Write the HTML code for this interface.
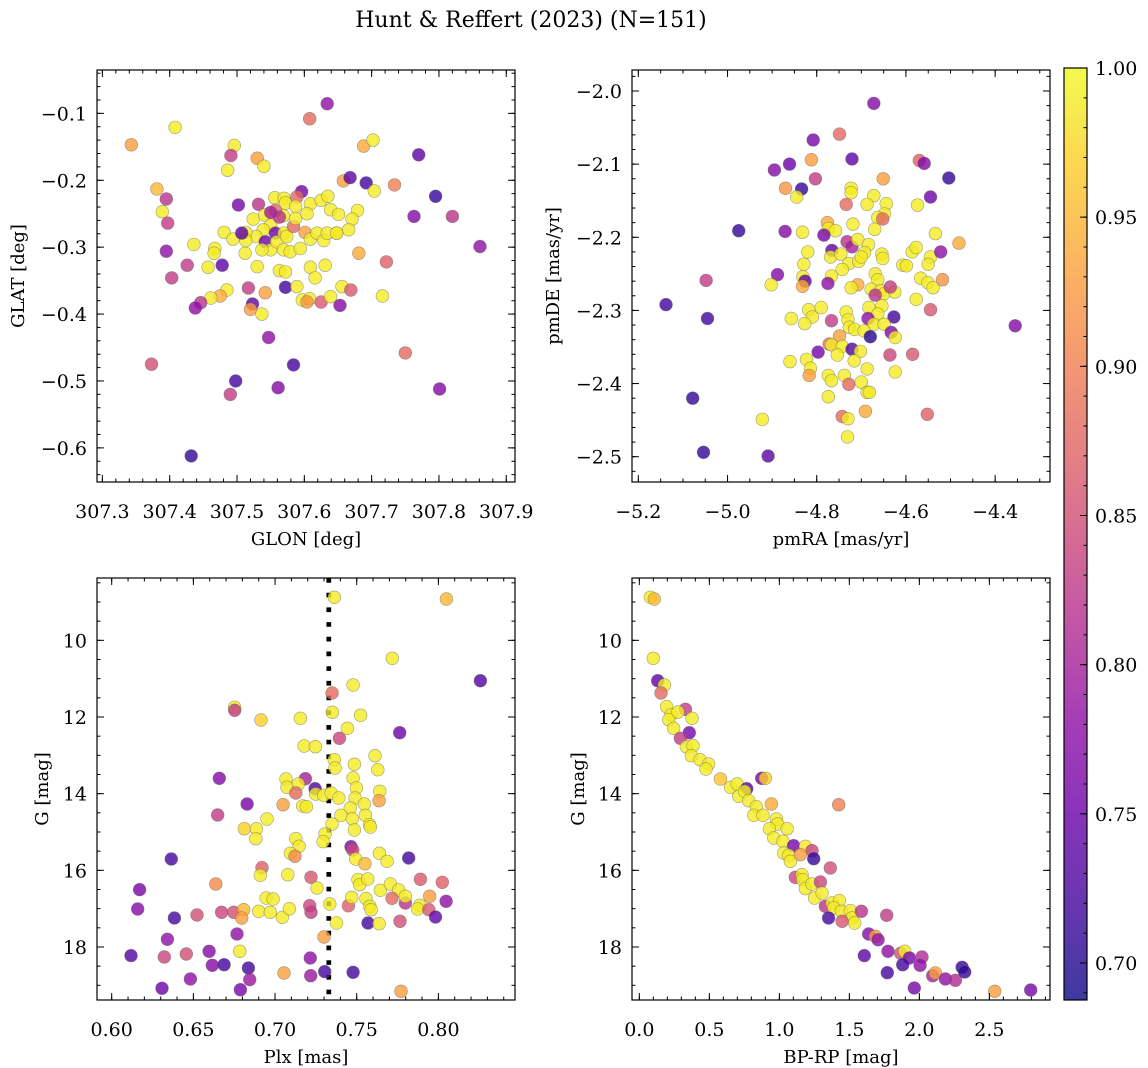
<!DOCTYPE html>
<html><head><meta charset="utf-8"><title>Hunt & Reffert (2023)</title>
<style>
html,body{margin:0;padding:0;background:#fff;}
svg{display:block;font-family:"DejaVu Serif","Liberation Serif",serif;}
</style></head>
<body>
<svg id="fig" xmlns="http://www.w3.org/2000/svg" width="1148" height="1068" viewBox="0 0 1148 1068">
<rect x="0" y="0" width="1148" height="1068" fill="#fff"/>
<text x="531" y="27" text-anchor="middle" font-size="22">Hunt &amp; Reffert (2023) (N=151)</text>
</svg>
<script>
// ---- data: [x, y, membership probability] ----
const spatialPoints = [
[307.343,-0.147,.93],[307.408,-0.121,.99],[307.634,-0.0855,.78],[307.608,-0.108,.88],[307.496,-0.148,.99],[307.491,-0.163,.83],[307.530,-0.167,.93],[307.540,-0.179,.99],[307.486,-0.185,.99],[307.381,-0.213,.95],
[307.395,-0.228,.82],[307.389,-0.247,.99],[307.397,-0.264,.83],[307.502,-0.237,.76],[307.532,-0.236,.82],[307.596,-0.217,.76],[307.589,-0.225,.88],[307.556,-0.226,.99],[307.570,-0.227,.99],[307.572,-0.234,.99],
[307.587,-0.239,.99],[307.609,-0.235,.99],[307.625,-0.230,.99],[307.635,-0.224,.99],[307.639,-0.244,.99],[307.651,-0.251,.99],[307.679,-0.245,.99],[307.671,-0.258,.99],[307.666,-0.274,.99],[307.648,-0.279,.99],
[307.658,-0.201,.93],[307.668,-0.196,.74],[307.692,-0.204,.72],[307.704,-0.216,.99],[307.688,-0.149,.94],[307.702,-0.140,.99],[307.734,-0.207,.90],[307.770,-0.162,.74],[307.795,-0.224,.71],[307.763,-0.254,.77],
[307.820,-0.254,.82],[307.861,-0.299,.78],[307.395,-0.306,.78],[307.436,-0.296,.99],[307.467,-0.302,.99],[307.466,-0.309,.99],[307.481,-0.278,.99],[307.494,-0.288,.99],[307.426,-0.327,.83],[307.457,-0.330,.99],
[307.478,-0.327,.74],[307.403,-0.346,.83],[307.512,-0.309,.99],[307.530,-0.329,.99],[307.524,-0.258,.99],[307.541,-0.252,.99],[307.550,-0.267,.99],[307.539,-0.274,.99],[307.528,-0.284,.99],[307.513,-0.278,.99],
[307.513,-0.290,.99],[307.507,-0.279,.74],[307.542,-0.292,.75],[307.550,-0.304,.99],[307.537,-0.304,.99],[307.557,-0.279,.75],[307.559,-0.292,.99],[307.570,-0.279,.99],[307.574,-0.284,.99],[307.569,-0.304,.99],
[307.579,-0.307,.99],[307.594,-0.302,.99],[307.584,-0.269,.88],[307.587,-0.257,.99],[307.569,-0.253,.99],[307.557,-0.245,.88],[307.601,-0.278,.93],[307.609,-0.288,.99],[307.619,-0.279,.99],[307.629,-0.290,.99],
[307.634,-0.279,.99],[307.648,-0.279,.99],[307.604,-0.250,.99],[307.681,-0.309,.94],[307.722,-0.322,.87],[307.563,-0.335,.99],[307.572,-0.337,.99],[307.609,-0.330,.99],[307.631,-0.327,.99],[307.616,-0.346,.99],
[307.517,-0.361,.83],[307.542,-0.368,.93],[307.572,-0.360,.72],[307.589,-0.359,.99],[307.485,-0.364,.99],[307.475,-0.373,.94],[307.461,-0.376,.99],[307.446,-0.383,.82],[307.438,-0.391,.78],[307.523,-0.385,.74],
[307.520,-0.393,.93],[307.537,-0.400,.99],[307.597,-0.379,.99],[307.608,-0.377,.99],[307.604,-0.382,.92],[307.625,-0.382,.86],[307.639,-0.374,.99],[307.656,-0.359,.99],[307.669,-0.364,.86],[307.716,-0.373,.99],
[307.653,-0.387,.77],[307.547,-0.435,.78],[307.373,-0.475,.85],[307.584,-0.476,.72],[307.498,-0.500,.72],[307.490,-0.520,.83],[307.561,-0.510,.77],[307.750,-0.458,.88],[307.801,-0.512,.77],[307.432,-0.612,.71],
[307.563,-0.255,.82],[307.550,-0.248,.80]
];
const pmPoints = [
[-4.672,-2.017,.77],[-4.749,-2.059,.88],[-4.808,-2.067,.76],[-4.721,-2.093,.74],[-4.812,-2.094,.93],[-4.861,-2.100,.75],[-4.895,-2.108,.77],[-4.803,-2.120,.83],[-4.870,-2.133,.92],[-4.834,-2.134,.71],
[-4.845,-2.145,.99],[-4.570,-2.095,.87],[-4.559,-2.099,.77],[-4.504,-2.119,.71],[-4.651,-2.120,.93],[-4.545,-2.145,.75],[-4.574,-2.156,.99],[-4.723,-2.133,.99],[-4.723,-2.139,.99],[-4.672,-2.143,.99],
[-4.687,-2.155,.99],[-4.644,-2.154,.99],[-4.648,-2.168,.99],[-4.663,-2.173,.99],[-4.652,-2.175,.88],[-4.734,-2.155,.88],[-4.719,-2.182,.99],[-4.670,-2.189,.99],[-4.776,-2.180,.94],[-4.774,-2.188,.99],
[-4.758,-2.191,.99],[-4.975,-2.191,.71],[-4.871,-2.192,.77],[-4.832,-2.193,.99],[-4.784,-2.197,.76],[-4.534,-2.195,.99],[-4.481,-2.208,.94],[-4.732,-2.206,.82],[-4.721,-2.213,.80],[-4.708,-2.203,.99],
[-4.684,-2.210,.99],[-4.766,-2.218,.74],[-4.820,-2.220,.99],[-4.769,-2.227,.99],[-4.746,-2.223,.99],[-4.728,-2.236,.99],[-4.743,-2.244,.99],[-4.706,-2.233,.99],[-4.693,-2.221,.99],[-4.700,-2.227,.99],
[-4.654,-2.223,.99],[-4.652,-2.229,.99],[-4.586,-2.220,.99],[-4.577,-2.214,.99],[-4.545,-2.227,.99],[-4.550,-2.237,.99],[-4.522,-2.220,.78],[-4.607,-2.238,.99],[-4.599,-2.239,.99],[-4.829,-2.237,.99],
[-4.888,-2.251,.77],[-4.831,-2.254,.99],[-4.826,-2.260,.74],[-4.832,-2.267,.94],[-4.767,-2.253,.99],[-4.775,-2.263,.78],[-4.902,-2.265,.99],[-5.048,-2.259,.83],[-4.669,-2.250,.99],[-4.663,-2.258,.99],
[-4.567,-2.256,.99],[-4.551,-2.262,.99],[-4.539,-2.269,.99],[-4.518,-2.258,.92],[-4.708,-2.265,.94],[-4.723,-2.269,.99],[-4.678,-2.271,.99],[-4.657,-2.273,.99],[-4.649,-2.277,.99],[-4.625,-2.275,.99],
[-4.635,-2.268,.83],[-4.669,-2.279,.82],[-4.577,-2.285,.99],[-5.138,-2.292,.72],[-5.045,-2.311,.72],[-4.818,-2.299,.99],[-4.790,-2.296,.99],[-4.810,-2.309,.99],[-4.827,-2.318,.99],[-4.857,-2.311,.99],
[-4.734,-2.302,.99],[-4.730,-2.313,.99],[-4.727,-2.323,.99],[-4.715,-2.326,.99],[-4.767,-2.314,.83],[-4.683,-2.296,.99],[-4.654,-2.294,.99],[-4.663,-2.305,.99],[-4.685,-2.311,.78],[-4.627,-2.309,.72],
[-4.672,-2.319,.99],[-4.649,-2.319,.99],[-4.694,-2.328,.99],[-4.680,-2.336,.70],[-4.633,-2.330,.77],[-4.624,-2.337,.99],[-4.545,-2.299,.86],[-4.355,-2.321,.77],[-4.749,-2.335,.93],[-4.772,-2.346,.89],
[-4.767,-2.347,.99],[-4.743,-2.349,.99],[-4.721,-2.353,.73],[-4.797,-2.357,.76],[-4.702,-2.356,.99],[-4.754,-2.361,.99],[-4.716,-2.369,.99],[-4.636,-2.361,.84],[-4.585,-2.360,.86],[-4.860,-2.370,.99],
[-4.823,-2.367,.99],[-4.814,-2.379,.99],[-4.817,-2.389,.93],[-4.687,-2.380,.99],[-4.624,-2.384,.99],[-4.774,-2.389,.99],[-4.767,-2.396,.99],[-4.738,-2.389,.99],[-4.728,-2.401,.88],[-4.700,-2.398,.99],
[-4.687,-2.412,.99],[-4.682,-2.412,.99],[-4.774,-2.418,.99],[-5.078,-2.420,.71],[-4.922,-2.449,.99],[-4.743,-2.445,.88],[-4.730,-2.448,.99],[-4.691,-2.438,.94],[-4.552,-2.442,.87],[-4.731,-2.473,.99],
[-5.054,-2.494,.71],[-4.909,-2.499,.74]
];
const plxPoints = [
[0.7363,8.878,.99],[0.8049,8.922,.95],[0.7718,10.470,.99],[0.8257,11.052,.73],[0.7478,11.165,.99],[0.7349,11.374,.88],[0.6753,11.748,.99],[0.6753,11.826,.83],[0.6914,12.078,.97],[0.7155,12.035,.99],
[0.7351,11.878,.99],[0.7524,11.957,.99],[0.7443,12.296,.99],[0.7763,12.409,.75],[0.7394,12.557,.84],[0.7178,12.757,.99],[0.7247,12.774,.99],[0.7363,13.113,.99],[0.7367,13.330,.99],[0.7486,13.235,.99],
[0.7612,13.009,.99],[0.7629,13.374,.99],[0.6659,13.600,.77],[0.7067,13.617,.99],[0.7186,13.609,.80],[0.7073,13.835,.99],[0.7143,13.748,.99],[0.7127,13.983,.88],[0.7245,13.870,.73],[0.7249,14.009,.99],
[0.7298,14.043,.99],[0.7343,13.983,.99],[0.7390,14.113,.99],[0.7478,13.591,.99],[0.7498,13.852,.99],[0.7490,14.113,.99],[0.7641,13.939,.99],[0.7637,14.183,.93],[0.6829,14.270,.76],[0.7049,14.287,.93],
[0.7169,14.322,.99],[0.7192,14.339,.99],[0.7547,14.270,.99],[0.7461,14.374,.99],[0.7404,14.565,.99],[0.7473,14.652,.99],[0.7553,14.565,.99],[0.7578,14.809,.99],[0.7584,14.870,.99],[0.7486,14.948,.99],
[0.7349,14.791,.99],[0.6649,14.557,.83],[0.6951,14.661,.99],[0.6812,14.913,.97],[0.6886,14.913,.99],[0.6882,15.174,.99],[0.7306,15.052,.99],[0.7294,15.252,.99],[0.7127,15.174,.99],[0.7147,15.374,.99],
[0.7094,15.557,.99],[0.7122,15.635,.91],[0.7465,15.383,.76],[0.7476,15.470,.84],[0.7494,15.704,.99],[0.7551,15.826,.95],[0.7639,15.557,.99],[0.7686,15.765,.99],[0.7818,15.678,.72],[0.6365,15.704,.72],
[0.6920,15.930,.87],[0.6910,16.130,.99],[0.7078,16.113,.99],[0.6637,16.357,.91],[0.7220,16.183,.86],[0.7257,16.461,.99],[0.7508,16.243,.99],[0.7518,16.374,.99],[0.7567,16.226,.99],[0.7645,16.522,.99],
[0.7706,16.357,.99],[0.7757,16.513,.99],[0.7890,16.235,.86],[0.8024,16.313,.87],[0.6171,16.504,.76],[0.6159,17.009,.77],[0.6384,17.243,.72],[0.6522,17.165,.85],[0.6673,17.096,.84],[0.6747,17.096,.85],
[0.6808,17.026,.95],[0.6796,17.243,.93],[0.6900,17.070,.99],[0.6945,16.722,.99],[0.6988,16.748,.99],[0.6971,17.096,.99],[0.7045,17.226,.99],[0.7088,17.000,.99],[0.7212,16.922,.84],[0.7220,17.096,.83],
[0.7335,16.878,.99],[0.7449,16.922,.87],[0.7469,16.704,.99],[0.7557,16.739,.99],[0.7580,16.939,.99],[0.7588,17.026,.99],[0.7716,16.730,.88],[0.7798,16.852,.82],[0.7798,16.678,.99],[0.7886,16.913,.99],
[0.7873,17.009,.99],[0.7947,16.678,.93],[0.7941,17.026,.86],[0.8047,16.809,.78],[0.7982,17.217,.74],[0.7765,17.330,.85],[0.7569,17.374,.72],[0.7637,17.391,.99],[0.7376,17.374,.99],[0.7300,17.739,.93],
[0.6767,17.661,.78],[0.6341,17.800,.78],[0.6784,18.113,.99],[0.6118,18.226,.73],[0.6322,18.261,.84],[0.6457,18.183,.85],[0.6596,18.113,.77],[0.6616,18.478,.77],[0.6688,18.461,.72],[0.6837,18.548,.72],
[0.6845,18.852,.79],[0.6788,19.113,.76],[0.6482,18.835,.78],[0.6308,19.078,.75],[0.7055,18.678,.93],[0.7216,18.287,.78],[0.7218,18.748,.79],[0.7304,18.643,.72],[0.7478,18.661,.72],[0.7771,19.157,.93]
];
const cmdPoints = [
[0.079,8.878,.99],[0.107,8.922,.95],[0.100,10.470,.99],[0.131,11.052,.74],[0.179,11.165,.99],[0.155,11.374,.88],[0.195,11.730,.99],[0.329,11.800,.83],[0.226,11.939,.99],[0.210,12.070,.99],
[0.276,11.870,.99],[0.376,12.035,.99],[0.245,12.296,.99],[0.357,12.409,.76],[0.293,12.557,.83],[0.336,12.774,.99],[0.383,12.748,.99],[0.371,13.009,.99],[0.433,13.113,.99],[0.495,13.226,.99],
[0.476,13.357,.99],[0.579,13.617,.96],[0.874,13.600,.76],[0.900,13.600,.97],[0.652,13.835,.99],[0.698,13.748,.99],[0.767,13.870,.73],[0.710,14.070,.99],[0.752,13.939,.99],[0.781,14.183,.99],
[0.836,14.339,.99],[0.817,14.565,.99],[0.883,14.565,.99],[0.943,14.270,.94],[0.979,14.661,.99],[0.988,14.791,.99],[0.929,14.913,.99],[1.055,14.913,.99],[0.960,15.157,.99],[1.026,15.243,.99],
[1.102,15.357,.76],[1.186,15.374,.99],[1.233,15.487,.84],[1.245,15.696,.71],[1.031,15.548,.99],[1.067,15.609,.99],[1.079,15.765,.99],[1.150,15.591,.93],[1.424,14.287,.90],[1.364,15.939,.85],
[1.114,16.183,.84],[1.162,16.113,.99],[1.167,16.243,.99],[1.186,16.478,.99],[1.233,16.357,.99],[1.293,16.304,.84],[1.252,16.722,.99],[1.305,16.591,.99],[1.329,16.939,.82],[1.376,16.852,.99],
[1.429,16.791,.99],[1.388,16.983,.99],[1.352,17.243,.72],[1.443,17.070,.99],[1.507,17.052,.99],[1.519,17.243,.99],[1.586,17.070,.82],[1.538,17.374,.99],[1.448,17.330,.86],[1.767,17.174,.83],
[1.638,17.661,.77],[1.686,17.722,.93],[1.705,17.809,.78],[1.607,18.226,.74],[1.776,18.113,.78],[1.867,18.165,.85],[1.895,18.113,.99],[1.929,18.287,.76],[2.019,18.261,.81],[1.771,18.670,.72],
[1.881,18.461,.72],[2.005,18.478,.78],[2.095,18.748,.80],[2.114,18.678,.93],[2.186,18.835,.78],[2.257,18.870,.81],[2.305,18.530,.71],[2.324,18.652,.71],[1.964,19.070,.76],[2.538,19.157,.93],
[2.795,19.122,.76]
];
const plxLine = 0.7329;
const cbarTicks = [0.70,0.75,0.80,0.85,0.90,0.95,1.00];
const probMin = 0.6876, probMax = 1.0;

// ---- helpers ----
const NS='http://www.w3.org/2000/svg';
const svg=document.getElementById('fig');
function mk(tag,attrs,parent){const e=document.createElementNS(NS,tag);for(const k in attrs)e.setAttribute(k,attrs[k]);(parent||svg).appendChild(e);return e;}
const plasmaStops=['#0d0887','#41049d','#6a00a8','#8f0da4','#b12a90','#cc4778','#e16462','#f2844b','#fca636','#fcce25','#f0f921'];
function hex(h){return [parseInt(h.slice(1,3),16),parseInt(h.slice(3,5),16),parseInt(h.slice(5,7),16)];}
function plasma(t){t=Math.max(0,Math.min(1,t));const f=t*10,i=Math.min(9,Math.floor(f)),u=f-i;const a=hex(plasmaStops[i]),b=hex(plasmaStops[i+1]);return 'rgb('+a.map((v,k)=>Math.round(v+(b[k]-v)*u)).join(',')+')';}
function lin(d0,d1,r0,r1){return v=>r0+(v-d0)/(d1-d0)*(r1-r0);}
function fmt(v,dec){const s=Math.abs(v).toFixed(dec);return (v<-1e-9?'\u2212':'')+s;}

function panel(o){
  const g=mk('g',{});
  
  
  const X=lin(o.xd[0],o.xd[1],o.x0,o.x1), Y=lin(o.yd[0],o.yd[1],o.y0,o.y1);
  const cid='clip-'+o.name;
  const cp=mk('clipPath',{id:cid},g);mk('rect',{x:o.x0,y:o.y0,width:o.x1-o.x0,height:o.y1-o.y0},cp);
  const pg=mk('g',{'clip-path':'url(#'+cid+')'},g);
  if(o.vline!==undefined){
    const l=mk('line',{x1:X(o.vline),x2:X(o.vline),y1:o.y0,y2:o.y1,stroke:'#000','stroke-width':4.7,'stroke-dasharray':'4.7 10'},pg);
    
    
  }
  o.pts.forEach(p=>{
    const c=mk('circle',{cx:X(p[0]).toFixed(1),cy:Y(p[1]).toFixed(1),r:6.4,fill:plasma((p[2]-probMin)/(probMax-probMin)),'fill-opacity':0.8,stroke:'#666','stroke-opacity':0.6,'stroke-width':0.6},pg);
    
    
  });
  mk('rect',{x:o.x0,y:o.y0,width:o.x1-o.x0,height:o.y1-o.y0,fill:'none',stroke:'#000','stroke-width':1.2},g);
  const xmin=Math.min(...o.xd),xmax=Math.max(...o.xd),ymin=Math.min(...o.yd),ymax=Math.max(...o.yd);
  const tg=mk('g',{stroke:'#000','stroke-width':1},g);
  for(let k=Math.ceil(xmin/o.xm-1e-6);k*o.xm<=xmax+1e-9;k++){const v=k*o.xm,x=X(v);mk('line',{x1:x,x2:x,y1:o.y1,y2:o.y1-3.5},tg);mk('line',{x1:x,x2:x,y1:o.y0,y2:o.y0+3.5},tg);}
  for(let k=Math.ceil(ymin/o.ym-1e-6);k*o.ym<=ymax+1e-9;k++){const v=k*o.ym,y=Y(v);mk('line',{x1:o.x0,x2:o.x0+3.5,y1:y,y2:y},tg);mk('line',{x1:o.x1,x2:o.x1-3.5,y1:y,y2:y},tg);}
  o.xt.forEach(v=>{const x=X(v);mk('line',{x1:x,x2:x,y1:o.y1,y2:o.y1-7},tg);mk('line',{x1:x,x2:x,y1:o.y0,y2:o.y0+7},tg);
    const t=mk('text',{x:x,y:o.y1+36,'text-anchor':'middle','font-size':19},g);t.textContent=fmt(v,o.xdec);
    
    });
  o.yt.forEach(v=>{const y=Y(v);mk('line',{x1:o.x0,x2:o.x0+7,y1:y,y2:y},tg);mk('line',{x1:o.x1,x2:o.x1-7,y1:y,y2:y},tg);
    const t=mk('text',{x:o.x0-10,y:y+7,'text-anchor':'end','font-size':19},g);t.textContent=fmt(v,o.ydec);
    
    });
  const xl=mk('text',{x:(o.x0+o.x1)/2,y:o.y1+63,'text-anchor':'middle','font-size':18},g);xl.textContent=o.xlabel;
  
  
  const yl=mk('text',{x:0,y:0,'text-anchor':'middle','font-size':18,transform:'translate('+o.ylx+','+((o.y0+o.y1)/2)+') rotate(-90)'},g);yl.textContent=o.ylabel;
  
  
}

panel({name:'glon-glat-panel',pts:spatialPoints,x0:97,x1:515,y0:70,y1:482,xd:[307.292,307.913],yd:[-0.0352,-0.651],
  xt:[307.3,307.4,307.5,307.6,307.7,307.8,307.9],xm:0.02,xdec:1,yt:[-0.1,-0.2,-0.3,-0.4,-0.5,-0.6],ym:0.02,ydec:1,xlabel:'GLON [deg]',ylabel:'GLAT [deg]',ylx:24});
panel({name:'proper-motion-panel',pts:pmPoints,x0:632,x1:1050,y0:70,y1:482,xd:[-5.2142,-4.277],yd:[-1.9713,-2.5346],
  xt:[-5.2,-5.0,-4.8,-4.6,-4.4],xm:0.05,xdec:1,yt:[-2.0,-2.1,-2.2,-2.3,-2.4,-2.5],ym:0.02,ydec:1,xlabel:'pmRA [mas/yr]',ylabel:'pmDE [mas/yr]',ylx:559});
panel({name:'parallax-magnitude-panel',pts:plxPoints,vline:plxLine,x0:97,x1:515,y0:578,y1:1000,xd:[0.591,0.8469],yd:[8.374,19.383],
  xt:[0.60,0.65,0.70,0.75,0.80],xm:0.01,xdec:2,yt:[10,12,14,16,18],ym:0.5,ydec:0,xlabel:'Plx [mas]',ylabel:'G [mag]',ylx:48});
panel({name:'color-magnitude-panel',pts:cmdPoints,x0:632,x1:1050,y0:578,y1:1000,xd:[-0.0524,2.933],yd:[8.374,19.383],
  xt:[0.0,0.5,1.0,1.5,2.0,2.5],xm:0.1,xdec:1,yt:[10,12,14,16,18],ym:0.5,ydec:0,xlabel:'BP-RP [mag]',ylabel:'G [mag]',ylx:584});

// ---- colorbar ----
(function(){
  const g=mk('g',{});
  
  
  const cx0=1064,cx1=1087,cy0=68,cy1=1000;
  const C=lin(probMin,probMax,cy1,cy0);
  const defs=mk('defs',{},g);
  const gr=mk('linearGradient',{id:'cbgrad',x1:0,y1:1,x2:0,y2:0},defs);
  for(let i=0;i<=20;i++){mk('stop',{offset:(i/20),'stop-color':plasma(i/20),'stop-opacity':0.8},gr);}
  mk('rect',{x:cx0,y:cy0,width:cx1-cx0,height:cy1-cy0,fill:'url(#cbgrad)'},g);
  mk('rect',{x:cx0,y:cy0,width:cx1-cx0,height:cy1-cy0,fill:'none',stroke:'#000','stroke-width':1.2},g);
  for(let k=Math.ceil(probMin/0.01);k*0.01<=probMax+1e-9;k++){const y=C(k*0.01);mk('line',{x1:cx1,x2:cx1-3.5,y1:y,y2:y,stroke:'#000'},g);}
  cbarTicks.forEach(v=>{const y=C(v);mk('line',{x1:cx1,x2:cx1-7,y1:y,y2:y,stroke:'#000'},g);
    const t=mk('text',{x:cx1+8,y:y+7,'font-size':19},g);t.textContent=v.toFixed(2);
    
    });
})();
</script>
</body></html>
